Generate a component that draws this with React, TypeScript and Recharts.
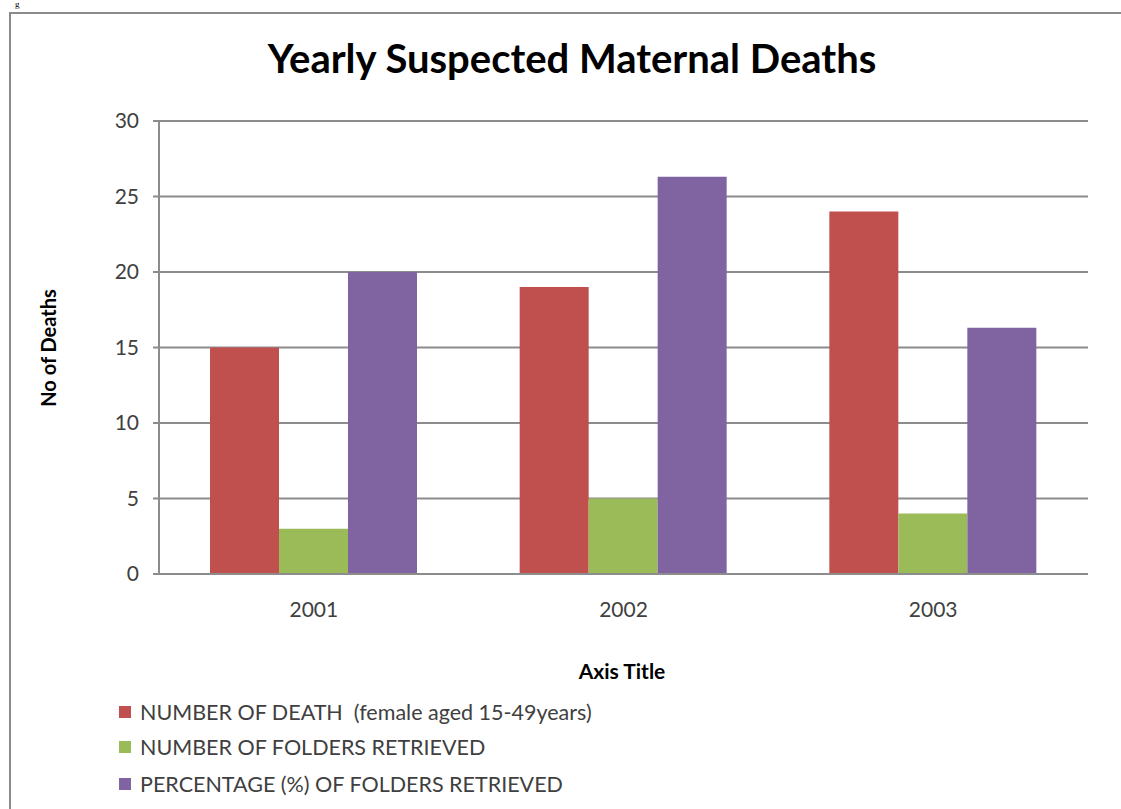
import React from 'react'
import { BarChart, Bar, XAxis, YAxis, CartesianGrid } from 'recharts'

const years = ['2001', '2002', '2003']
const deaths = [15, 19, 24]
const foldersRetrieved = [3, 5, 4]
const percentRetrieved = [20, 26.3, 16.3]
const yTicks = [0, 5, 10, 15, 20, 25, 30]

const seriesNames = [
  'NUMBER OF DEATH  (female aged 15-49years)',
  'NUMBER OF FOLDERS RETRIEVED',
  'PERCENTAGE (%) OF FOLDERS RETRIEVED',
]
const seriesColors = ['#C0504D', '#9BBB59', '#8064A2']
const seriesKeys = ['deaths', 'folders', 'percent']

const data = years.map((year, i) => ({
  year,
  deaths: deaths[i],
  folders: foldersRetrieved[i],
  percent: percentRetrieved[i],
}))

const font = 'Lato, "Open Sans", sans-serif'
const textColor = '#404040'

export default function App() {
  return (
    <div style={{ position: 'absolute', left: 0, top: 0, width: 1121, height: 809, overflow: 'hidden', background: '#fff', fontFamily: font }}>
      {/* leftover glyph from the page above */}
      <span style={{ position: 'absolute', left: 15, top: 0, fontFamily: 'serif', fontSize: 9, lineHeight: '9px' }}>g</span>

      {/* chart frame */}
      <div style={{ position: 'absolute', left: 9, top: 12, width: 1140, height: 820, border: '2px solid #8a8a8a', boxSizing: 'border-box' }} />

      <div style={{ position: 'absolute', left: 0, top: 34, width: 1144, textAlign: 'center', fontSize: 40, fontWeight: 700, color: '#000', lineHeight: 1.2 }}>
        Yearly Suspected Maternal Deaths
      </div>

      <div style={{ position: 'absolute', left: 0, top: 0 }}>
        <BarChart
          width={1121}
          height={809}
          data={data}
          barGap={0}
          margin={{ top: 121, right: 33, bottom: 205, left: 99 }}
        >
          <CartesianGrid vertical={false} stroke="#8c8c8c" strokeWidth={2} />
          <XAxis
            dataKey="year"
            height={30}
            tickLine={false}
            tickSize={0}
            tickMargin={28}
            axisLine={{ stroke: '#8c8c8c', strokeWidth: 2 }}
            tick={{ fill: textColor, fontSize: 21, fontFamily: font }}
          />
          <YAxis
            width={60}
            domain={[0, 30]}
            ticks={yTicks}
            tickSize={6}
            tickMargin={14}
            tickLine={{ stroke: '#8c8c8c', strokeWidth: 2 }}
            axisLine={{ stroke: '#8c8c8c', strokeWidth: 2 }}
            tick={{ fill: textColor, fontSize: 21, fontFamily: font }}
          />
          {seriesKeys.map((key, i) => (
            <Bar key={key} dataKey={key} name={seriesNames[i]} fill={seriesColors[i]} barSize={69} isAnimationActive={false} />
          ))}
        </BarChart>
      </div>

      <div style={{ position: 'absolute', left: 48, top: 348, transform: 'translate(-50%, -50%) rotate(-90deg)', fontSize: 20, fontWeight: 700, color: '#000', whiteSpace: 'nowrap' }}>
        No of Deaths
      </div>

      <div style={{ position: 'absolute', left: 622, top: 670, transform: 'translate(-50%, -50%)', fontSize: 21, fontWeight: 700, color: '#000', whiteSpace: 'nowrap' }}>
        Axis Title
      </div>

      {seriesNames.map((name, i) => (
        <div key={name} style={{ position: 'absolute', left: 119, top: [712, 747, 784][i], transform: 'translateY(-50%)', display: 'flex', alignItems: 'center' }}>
          <span style={{ width: 12, height: 12, background: seriesColors[i], display: 'inline-block', marginRight: 9 }} />
          <span style={{ fontSize: 21.5, color: textColor, whiteSpace: 'pre' }}>{name}</span>
        </div>
      ))}
    </div>
  )
}
